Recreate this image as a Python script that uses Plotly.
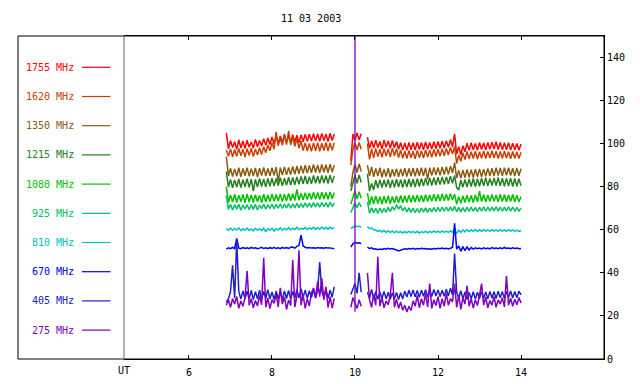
import plotly.graph_objects as go

# ---------------- data ----------------
title_text = "11 03 2003"
seg_start = [6.90, 9.90, 10.30]   # UT hours, start of each recorded segment
seg_count = [53, 6, 75]           # samples per segment
step = 0.05                       # hours between samples

x_ticks = [6, 8, 10, 12, 14]
y_ticks = [0, 20, 40, 60, 80, 100, 120, 140]

labels = ["1755 MHz", "1620 MHz", "1350 MHz", "1215 MHz", "1080 MHz",
          "925 MHz", "810 MHz", "670 MHz", "405 MHz", "275 MHz"]
colors = ["#ff0000", "#c84000", "#8b5a10", "#228020", "#00c000",
          "#00c060", "#00c0c0", "#0000ff", "#2020c8", "#8000c0"]

f1755 = ([105, 97.6, 101.4, 98.2, 100.9, 97.4, 101.8, 98.0, 101.2, 97.7, 101.6, 98.3, 100.8, 97.9, 102.0, 98.6, 101.5, 98.9, 102.3, 99.2,
          102.6, 99.6, 103.1, 100.0, 103.4, 100.2, 103.6, 100.4, 104.0, 100.5, 103.7, 100.6, 104.2, 100.8, 103.9, 100.5, 104.1, 100.9, 104.3, 101.0,
          104.4, 101.2, 104.6, 101.3, 104.5, 101.1, 104.7, 101.4, 104.4, 101.0, 104.8, 101.5, 104.5]
         + [92, 104.5, 101.5, 105.0, 101.8, 104.6]
         + [103, 97.8, 101.3, 98.0, 101.6, 98.2, 101.0, 97.6, 101.7, 98.3, 101.2, 97.9, 101.5, 98.1, 101.0, 97.4, 100.5, 97.0, 100.3, 96.9,
            100.6, 97.2, 100.4, 97.0, 100.7, 97.3, 100.5, 97.1, 100.8, 97.4, 100.6, 97.5, 100.9, 97.6, 101.0, 97.8, 101.1, 98.0, 101.4, 98.3,
            101.8, 98.6, 104.5, 95.2, 98.6, 94.8, 99.0, 96.2, 100.2, 96.9, 100.4, 97.1, 100.1, 96.9, 100.5, 97.3, 100.3, 97.0, 100.6, 97.4,
            100.7, 97.5, 100.9, 97.3, 100.6, 97.1, 100.4, 97.2, 100.5, 97.0, 100.2, 97.1, 100.1, 96.9, 99.8])

f1620 = ([97, 94.2, 97.6, 93.9, 97.3, 94.1, 97.8, 94.4, 97.4, 93.8, 97.7, 94.5, 97.9, 94.0, 97.5, 94.7, 98.1, 95.0, 98.6, 95.8,
          99.4, 96.7, 100.4, 97.4, 105.5, 99.0, 102.6, 99.2, 104.5, 99.6, 106.0, 99.4, 103.2, 98.8, 102.4, 98.0, 101.2, 96.8, 100.4, 96.6,
          100.1, 96.4, 100.3, 96.7, 100.5, 96.5, 100.2, 96.8, 100.6, 96.6, 100.3, 96.9, 100.4]
         + [90, 97.2, 100.4, 97.0, 100.6, 97.4]
         + [100, 92.7, 97.6, 93.4, 97.8, 94.0, 97.4, 93.7, 97.7, 94.2, 97.5, 93.8, 97.9, 94.4, 97.6, 93.5, 97.0, 93.2, 96.6, 93.1,
            96.8, 93.4, 96.5, 93.0, 96.9, 93.5, 96.7, 93.3, 97.1, 93.8, 97.0, 93.7, 97.3, 94.0, 97.4, 94.2, 97.6, 94.4, 97.8, 94.7,
            98.2, 95.2, 98.8, 90.8, 94.6, 91.8, 95.8, 92.6, 96.4, 93.0, 96.3, 93.1, 96.5, 92.9, 96.2, 93.2, 96.6, 93.1, 96.4, 93.3,
            96.7, 93.4, 96.5, 93.1, 96.4, 93.2, 96.6, 93.3, 96.3, 93.0, 96.4, 93.2, 96.2, 93.1, 96.0])

f1350 = ([94, 85.0, 88.6, 84.7, 88.3, 84.9, 88.8, 84.6, 88.5, 85.1, 88.9, 84.8, 88.4, 85.0, 88.7, 84.5, 88.6, 85.2, 89.0, 85.0,
          88.5, 85.1, 88.8, 85.3, 89.1, 82.5, 88.9, 85.4, 89.2, 85.5, 89.0, 85.6, 89.4, 85.8, 89.6, 86.0, 89.8, 86.2, 90.0, 86.3,
          89.9, 86.5, 90.3, 86.6, 90.1, 86.4, 90.4, 86.7, 90.2, 86.5, 90.5, 86.8, 90.0]
         + [80, 86.8, 90.4, 86.6, 90.6, 87.0]
         + [90, 85.0, 89.2, 84.6, 88.5, 84.9, 88.8, 84.4, 88.2, 84.7, 88.6, 84.3, 88.1, 84.8, 88.4, 84.6, 88.3, 84.9, 88.6, 84.7,
            88.5, 85.0, 88.7, 84.8, 88.6, 85.1, 88.9, 85.0, 88.8, 83.5, 88.9, 85.2, 89.0, 85.4, 88.9, 85.3, 89.2, 85.6, 89.3, 85.8,
            89.6, 86.4, 91.2, 84.0, 87.6, 83.9, 87.8, 84.2, 88.0, 84.4, 87.9, 84.3, 88.1, 84.6, 88.3, 84.5, 88.2, 84.8, 88.5, 84.9,
            88.6, 85.0, 88.8, 85.2, 88.7, 85.1, 88.9, 85.3, 88.8, 85.2, 88.6, 85.0, 88.7, 85.1, 88.4])

f1215 = ([87, 79.8, 83.4, 79.5, 83.2, 79.9, 83.6, 79.6, 83.3, 80.0, 83.7, 79.7, 83.5, 78.0, 83.4, 79.9, 83.8, 80.1, 83.6, 79.8,
          83.9, 80.2, 84.0, 80.3, 83.8, 80.5, 84.2, 80.4, 84.0, 80.7, 84.4, 80.8, 84.3, 80.9, 84.6, 81.1, 84.8, 81.3, 85.0, 81.2,
          84.7, 81.4, 85.2, 81.6, 85.0, 81.5, 85.3, 81.7, 85.1, 81.5, 85.4, 81.8, 85.0]
         + [78, 81.8, 85.4, 81.6, 85.5, 82.0]
         + [86, 78.0, 81.5, 78.5, 83.0, 79.4, 83.3, 79.6, 83.1, 79.8, 83.4, 79.5, 83.2, 79.7, 83.5, 79.9, 83.3, 79.6, 83.4, 79.9,
            83.6, 80.0, 83.5, 79.8, 83.7, 80.1, 83.9, 80.3, 84.0, 80.5, 84.1, 80.6, 84.2, 80.8, 84.4, 81.0, 84.5, 81.1, 84.6, 81.3,
            84.9, 81.6, 85.2, 79.6, 78.5, 83.0, 79.8, 83.4, 79.9, 83.6, 80.1, 83.8, 80.0, 83.7, 80.2, 84.0, 80.4, 84.2, 80.3, 83.9,
            80.5, 84.1, 80.6, 84.3, 80.4, 84.0, 80.2, 83.9, 80.3, 84.0, 80.1, 83.8, 80.2, 83.7, 80.5])

f1080 = ([80, 72.7, 76.2, 72.9, 76.5, 72.6, 76.1, 73.0, 76.4, 72.5, 76.7, 72.8, 76.2, 72.7, 76.3, 73.0, 76.0, 72.6, 76.5, 72.9,
          76.2, 73.1, 76.6, 73.2, 76.4, 73.3, 76.7, 73.1, 76.5, 73.4, 76.9, 73.5, 76.7, 73.6, 78.8, 73.7, 77.0, 73.9, 77.2, 74.0,
          77.1, 74.1, 77.4, 74.2, 77.3, 74.1, 77.5, 74.3, 77.3, 74.2, 77.6, 74.4, 77.3]
         + [72, 74.5, 77.9, 74.3, 77.7, 74.6]
         + [77, 71.6, 75.5, 72.1, 75.7, 72.2, 75.4, 72.0, 75.6, 72.3, 75.8, 72.1, 75.5, 72.4, 75.7, 72.5, 75.9, 72.6, 75.8, 72.7,
            76.1, 72.8, 75.9, 72.9, 76.2, 73.0, 76.0, 72.9, 76.3, 73.1, 76.2, 73.2, 76.5, 73.3, 76.4, 73.4, 76.7, 73.5, 76.5, 73.6,
            76.9, 73.9, 76.6, 71.9, 75.4, 72.3, 75.8, 72.7, 76.1, 72.9, 75.9, 72.7, 76.2, 73.0, 78.0, 73.1, 76.3, 72.9, 76.1, 73.1,
            76.4, 73.2, 76.2, 73.0, 76.5, 73.1, 76.3, 72.9, 76.2, 73.1, 76.4, 73.0, 76.1, 72.9, 75.5])

f925 = ([76, 69.5, 71.8, 69.2, 71.6, 69.6, 71.9, 69.1, 71.5, 69.7, 71.7, 69.3, 71.6, 69.5, 71.8, 69.2, 71.5, 69.8, 71.9, 69.6,
         71.6, 69.9, 72.0, 69.7, 71.8, 70.0, 72.1, 69.9, 71.9, 70.1, 72.2, 70.0, 72.0, 70.2, 72.3, 70.3, 72.2, 70.4, 72.5, 70.5,
         72.4, 70.4, 72.6, 70.6, 72.5, 70.5, 72.7, 70.7, 72.5, 70.5, 72.8, 70.8, 72.4]
        + [68, 70.0, 72.4, 70.3, 72.6, 70.6]
        + [73, 67.7, 70.2, 67.9, 70.0, 67.6, 70.1, 68.0, 69.9, 68.1, 70.4, 68.4, 70.8, 69.2, 71.6, 69.6, 71.2, 68.8, 70.4, 68.3,
           70.2, 68.1, 70.0, 67.9, 69.9, 68.0, 70.1, 68.2, 70.2, 68.1, 70.0, 68.3, 70.3, 68.4, 70.4, 68.5, 70.5, 68.6, 70.6, 68.7,
           70.7, 68.8, 70.9, 68.4, 70.4, 68.3, 70.3, 68.4, 70.5, 68.5, 70.6, 68.6, 70.4, 68.4, 70.5, 68.7, 70.7, 68.6, 70.5, 68.7,
           70.6, 68.8, 70.8, 68.7, 70.6, 68.6, 70.5, 68.8, 70.7, 68.7, 70.6, 68.6, 70.4, 68.7, 70.2])

f810 = ([60.5, 59.8, 60.8, 59.7, 60.6, 59.9, 60.9, 59.6, 60.5, 59.8, 60.8, 59.7, 60.4, 59.5, 60.7, 59.8, 60.5, 59.6, 60.8, 59.0,
         60.6, 59.8, 60.7, 59.4, 60.5, 59.9, 60.9, 59.8, 60.6, 60.0, 61.0, 59.9, 60.7, 60.1, 61.2, 60.0, 60.8, 60.2, 61.1, 60.1,
         60.9, 60.3, 61.2, 60.2, 61.0, 60.3, 61.3, 60.4, 61.1, 60.3, 61.2, 60.4, 61.0]
        + [60.5, 61.2, 61.8, 61.4, 61.6, 61.3]
        + [61.5, 60.5, 60.8, 60.0, 59.8, 59.4, 59.7, 59.0, 59.7, 58.8, 59.6, 58.7, 59.5, 58.6, 59.4, 58.7, 59.3, 58.5, 59.2, 58.6,
           59.4, 58.7, 59.2, 58.6, 59.3, 58.5, 59.2, 58.7, 59.4, 58.6, 59.3, 58.7, 59.5, 58.8, 59.4, 58.7, 59.5, 58.8, 59.4, 58.8,
           59.5, 58.9, 60.5, 58.2, 59.8, 58.8, 60.0, 59.0, 60.1, 59.2, 60.0, 59.3, 60.1, 59.2, 60.0, 59.3, 60.1, 59.4, 60.0, 59.3,
           60.1, 59.4, 60.0, 59.3, 60.1, 59.4, 60.0, 59.3, 60.1, 59.4, 60.0, 59.3, 59.9, 59.3, 59.6])

f670 = ([51.0, 51.6, 51.2, 51.8, 51.3, 56.0, 51.5, 51.2, 51.7, 51.3, 51.6, 51.2, 51.8, 51.4, 51.6, 51.2, 51.5, 51.9, 51.3, 51.6,
         51.2, 51.7, 51.4, 51.9, 51.3, 51.6, 51.2, 51.8, 51.4, 51.7, 51.3, 51.9, 52.0, 51.5, 52.3, 52.8, 57.5, 52.5, 51.9, 51.6,
         51.8, 51.5, 51.7, 51.4, 51.8, 51.5, 51.7, 51.4, 51.8, 51.5, 51.6, 51.4, 51.2]
        + [52.0, 53.5, 54.2, 53.8, 54.0, 53.6]
        + [52.0, 51.3, 51.6, 51.0, 51.2, 50.8, 51.1, 50.9, 51.3, 51.0, 51.4, 51.1, 51.3, 50.8, 50.6, 50.2, 50.6, 50.9, 51.2, 51.0,
           51.3, 51.1, 51.4, 51.0, 51.3, 51.1, 51.4, 51.2, 51.3, 51.0, 51.2, 51.0, 51.3, 51.1, 51.4, 51.2, 51.5, 51.2, 51.4, 51.1,
           51.5, 51.8, 63.0, 51.0, 52.5, 50.0, 52.2, 50.3, 52.0, 50.6, 51.8, 51.0, 51.6, 51.2, 51.5, 51.1, 51.6, 51.2, 51.5, 51.1,
           51.7, 51.3, 51.5, 51.2, 51.6, 51.2, 51.8, 51.3, 51.5, 51.2, 51.6, 51.3, 51.5, 51.2, 51.3])

f405 = ([26.5, 28.0, 31.2, 43.5, 28.2, 55.0, 31.4, 27.8, 31.6, 28.1, 31.5, 27.9, 31.8, 27.6, 31.3, 28.0, 32.0, 27.7, 31.4, 28.1,
         32.2, 27.9, 31.1, 27.6, 31.5, 28.0, 31.2, 27.5, 31.6, 28.1, 31.9, 27.8, 31.4, 28.2, 32.2, 28.4, 32.6, 28.6, 32.0, 28.2,
         31.7, 28.5, 32.4, 28.3, 31.9, 45.0, 31.5, 28.4, 32.3, 28.2, 32.0, 28.7, 33.5]
        + [30.0, 33.0, 35.0, 30.5, 40.0, 31.0]
        + [31.0, 28.2, 32.3, 28.0, 31.3, 27.8, 31.1, 28.1, 31.4, 27.9, 31.0, 27.7, 30.7, 27.8, 30.9, 27.6, 30.8, 27.9, 31.5, 28.8,
           31.9, 29.0, 32.1, 28.9, 31.8, 28.7, 32.0, 29.1, 32.2, 28.8, 31.9, 29.0, 32.3, 29.2, 32.1, 28.9, 31.9, 29.1, 32.4, 29.3,
           32.9, 29.7, 49.0, 31.0, 28.2, 31.7, 27.9, 31.1, 27.7, 30.9, 28.0, 31.2, 27.8, 31.0, 28.1, 31.3, 28.2, 31.1, 28.0, 31.4,
           28.3, 31.2, 28.1, 31.5, 28.4, 31.3, 28.2, 31.4, 28.5, 31.6, 28.3, 31.3, 28.4, 31.5, 29.8])

f275 = ([25.0, 27.5, 24.0, 28.0, 25.5, 29.0, 23.5, 27.0, 24.5, 28.5, 41.0, 25.0, 28.0, 23.8, 27.2, 24.6, 29.5, 25.2, 47.0, 24.0,
         28.3, 23.4, 27.6, 25.8, 30.0, 24.2, 33.0, 25.5, 28.8, 23.0, 27.4, 24.8, 46.0, 24.2, 29.0, 50.5, 25.0, 29.8, 23.5, 28.0,
         24.6, 30.5, 33.0, 28.5, 36.0, 29.0, 37.5, 27.5, 33.5, 24.0, 29.0, 23.6, 28.2]
        + [24.0, 28.5, 26.0, 23.5, 27.5, 24.5]
        + [40.0, 27.5, 24.0, 30.0, 25.0, 47.5, 24.5, 28.5, 23.8, 27.0, 25.2, 29.5, 40.0, 24.0, 27.8, 23.5, 26.5, 22.6, 25.0, 21.8,
           24.5, 22.5, 27.0, 24.5, 29.5, 23.8, 28.0, 25.0, 30.5, 24.2, 35.0, 23.5, 27.5, 24.8, 29.0, 23.5, 28.0, 24.5, 30.5, 25.0,
           28.0, 26.5, 35.0, 24.0, 29.5, 23.0, 28.5, 25.5, 34.0, 24.5, 28.0, 23.6, 27.5, 24.8, 29.5, 35.0, 25.0, 28.8, 23.8, 27.2,
           25.0, 29.0, 24.0, 27.5, 25.5, 28.5, 24.2, 38.5, 25.0, 28.2, 24.5, 27.8, 25.2, 28.5, 26.0])

# brief 275 MHz burst at 10.00 UT that runs off the top of the scale
burst_275_time = 10.0
burst_275_span = [22.0, 400.0]

series = [f1755, f1620, f1350, f1215, f1080, f925, f810, f670, f405, f275]

# ---------------- build ----------------
n_total = sum(seg_count)
for lab, s in zip(labels, series):
    assert len(s) == n_total, (lab, len(s))


def with_gaps(vals):
    out, p = [], 0
    for k, n in enumerate(seg_count):
        if k:
            out.append(None)
        out += list(vals[p:p + n])
        p += n
    return out


times = with_gaps([round(s + step * i, 3)
                   for s, n in zip(seg_start, seg_count) for i in range(n)])

FONT = "DejaVu Sans Mono"
fig = go.Figure()
for lab, col, s in zip(labels, colors, series):
    fig.add_trace(go.Scatter(x=times, y=with_gaps(s), mode="lines", name=lab,
                             line=dict(color=col, width=1.5), showlegend=False,
                             connectgaps=False))
fig.add_trace(go.Scatter(x=[burst_275_time, burst_275_time], y=burst_275_span,
                         mode="lines", line=dict(color=colors[-1], width=1.3),
                         showlegend=False))

W, H = 640, 384
OFF = 8                      # page body margin of the browser
L, R, T, B = 116, 44, 28, 33
pw, ph = W - L - R, H - T - B


def px(xs):                  # screen x -> paper x
    return (xs - OFF - L) / pw


def py(ys):                  # screen y -> paper y
    return (H - B - (ys - OFF)) / ph


shapes = [
    dict(type="rect", xref="paper", yref="paper", x0=px(18), x1=1, y0=0, y1=1,
         line=dict(color="black", width=1)),
    dict(type="line", xref="paper", yref="paper", x0=0, x1=0, y0=0, y1=1,
         line=dict(color="#666666", width=1)),
]
annotations = [
    dict(text=title_text, xref="paper", yref="paper", x=px(311), y=py(18),
         showarrow=False, font=dict(family=FONT, size=10, color="black"),
         xanchor="center", yanchor="middle"),
    dict(text="UT", xref="paper", yref="paper", x=0, y=py(370),
         showarrow=False, font=dict(family=FONT, size=10, color="black"),
         xanchor="center", yanchor="middle"),
]
leg_y0, leg_dy = 67.3, 29.2
for k, (lab, col) in enumerate(zip(labels, colors)):
    yy = leg_y0 + k * leg_dy
    shapes.append(dict(type="line", xref="paper", yref="paper",
                       x0=px(82), x1=px(110.5), y0=py(yy), y1=py(yy),
                       line=dict(color=col, width=1.2)))
    annotations.append(dict(text=lab, xref="paper", yref="paper", x=px(76),
                            y=py(yy), showarrow=False, xanchor="right",
                            yanchor="middle",
                            font=dict(family=FONT, size=10, color=col)))

fig.update_layout(
    width=W, height=H, margin=dict(l=L, r=R, t=T, b=B, pad=0),
    paper_bgcolor="white", plot_bgcolor="white",
    font=dict(family=FONT, size=10, color="black"),
    shapes=shapes, annotations=annotations,
    xaxis=dict(range=[4.434, 16.0], tickvals=x_ticks, ticks="inside",
               ticklen=4, tickcolor="black", showline=True, linecolor="black",
               linewidth=1, mirror="ticks", showgrid=False, zeroline=False,
               ticklabelstandoff=4,
               tickfont=dict(family=FONT, size=10, color="black")),
    yaxis=dict(range=[0, 150], tickvals=y_ticks, side="right", ticks="inside",
               ticklen=4, tickcolor="black", showline=True, linecolor="black",
               linewidth=1, showgrid=False, zeroline=False,
               tickfont=dict(family=FONT, size=10, color="black")),
)

fig.write_html("out.html")
